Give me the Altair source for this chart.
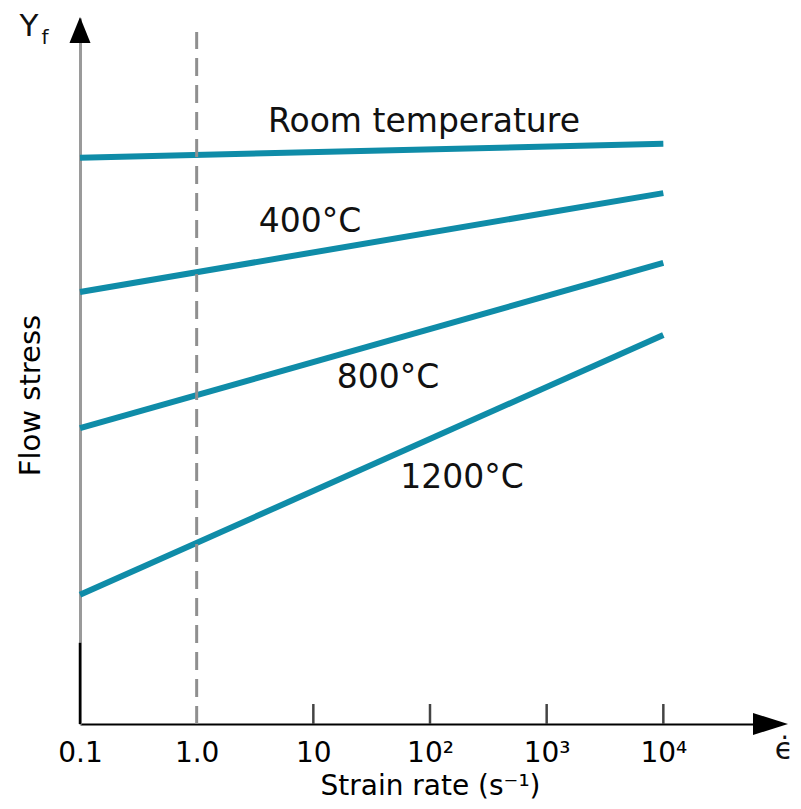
import altair as alt
import pandas as pd

# ---- data ----
series = ["Room temperature", "400°C", "800°C", "1200°C"]
strain_start = [0.1, 0.1, 0.1, 0.1]
strain_end = [1e4, 1e4, 1e4, 1e4]
stress_start = [80.2, 61.2, 41.9, 18.3]
stress_end = [82.2, 75.2, 65.3, 55.1]

label_text = ["Room temperature", "400°C", "800°C", "1200°C"]
label_x = [88.8, 9.36, 43.6, 188.0]
label_y = [85.3, 71.1, 49.0, 34.8]

tick_values = [0.1, 1, 10, 100, 1000, 10000]
tick_labels = ["0.1", "1.0", "10", "10²", "10³", "10⁴"]
minor_ticks = [10, 100, 1000, 10000]

x_min, x_max = 0.1, 1e5
y_min, y_max = 0, 100

FONT = "DejaVu Sans"
TEAL = "#0f8ca8"

# ---- tables ----
lines_df = pd.DataFrame(
    [{"series": s, "x": a, "y": b} for s, a, b in zip(series, strain_start, stress_start)]
    + [{"series": s, "x": a, "y": b} for s, a, b in zip(series, strain_end, stress_end)]
)
labels_df = pd.DataFrame({"label": label_text, "x": label_x, "y": label_y})
ticks_df = pd.DataFrame({"x": minor_ticks, "y": [0] * len(minor_ticks), "y2": [2.83] * len(minor_ticks)})
ref_df = pd.DataFrame({"x": [1.0], "y": [0], "y2": [98]})
ybar_df = pd.DataFrame({"x": [0.1], "y": [0], "y2": [11.5]})
yarrow_df = pd.DataFrame({"x": [x_min], "y": [y_max]})
xarrow_df = pd.DataFrame({"x": [x_max], "y": [y_min]})

xscale = alt.Scale(type="log", domain=[x_min, x_max], nice=False)
yscale = alt.Scale(domain=[y_min, y_max], nice=False, zero=False)

vals = ",".join(str(v) for v in tick_values)
labs = ",".join(f"'{l}'" for l in tick_labels)
label_expr = f"[{labs}][indexof([{vals}], datum.value)]"

x_axis = alt.Axis(
    values=tick_values, labelExpr=label_expr, ticks=False, tickSize=0, grid=False,
    domainColor="black", domainWidth=2, labelFont=FONT, labelFontSize=28,
    labelColor="black", labelPadding=15, labelFlush=False, labelOverlap=False,
    title="Strain rate (s⁻¹)", titleFont=FONT, titleFontSize=28,
    titleFontWeight="normal", titleColor="black",
    titleBaseline="alphabetic", titleY=70,
)
y_axis = alt.Axis(
    ticks=False, labels=False, grid=False, domainColor="#9a9a9a", domainWidth=3,
    title="Flow stress", titleFont=FONT, titleFontSize=29, titleFontWeight="normal",
    titleColor="black", titlePadding=35, titleY=377,
)

def X():
    return alt.X("x:Q", scale=xscale, axis=x_axis)

def Y():
    return alt.Y("y:Q", scale=yscale, axis=y_axis)

lines = alt.Chart(lines_df).mark_line(color=TEAL, strokeWidth=6, strokeCap="butt").encode(
    x=X(), y=Y(), detail="series:N"
)

ref = alt.Chart(ref_df).mark_rule(color="#8f8f8f", strokeWidth=3, strokeDash=[18, 9]).encode(
    x=X(), y=Y(), y2="y2:Q"
)

ybar = alt.Chart(ybar_df).mark_rule(color="black", strokeWidth=2.5).encode(
    x=X(), y=Y(), y2="y2:Q"
)

ticks = alt.Chart(ticks_df).mark_rule(color="#444444", strokeWidth=2.5).encode(
    x=X(), y=Y(), y2="y2:Q"
)

labels = alt.Chart(labels_df).mark_text(
    font=FONT, fontSize=33, color="#111111", align="center", baseline="middle"
).encode(x=X(), y=Y(), text="label:N")

yarrow = alt.Chart(yarrow_df).mark_point(
    shape="M-0.81,1.923 L0,-0.077 L0.81,1.923 Z", size=676, filled=True,
    color="black", opacity=1, strokeWidth=0
).encode(x=X(), y=Y())

xarrow = alt.Chart(xarrow_df).mark_point(
    shape="M-1.543,-0.63 L0.457,0 L-1.543,0.63 Z", size=1225, filled=True,
    color="black", opacity=1, strokeWidth=0
).encode(x=X(), y=Y())

ylab_Y = alt.Chart(yarrow_df).mark_text(
    text="Y", font=FONT, fontSize=31, color="#111111", align="center", baseline="middle",
    dx=-51, dy=9
).encode(x=X(), y=Y())
ylab_f = alt.Chart(yarrow_df).mark_text(
    text="f", font=FONT, fontSize=20, color="#111111", align="center", baseline="middle",
    dx=-35, dy=20
).encode(x=X(), y=Y())
xlab_eps = alt.Chart(xarrow_df).mark_text(
    text="ϵ̇", font=FONT, fontSize=30, color="#111111", align="center", baseline="middle",
    dx=4, dy=26
).encode(x=X(), y=Y())

chart = alt.layer(
    lines, ref, ybar, ticks, labels, yarrow, xarrow, ylab_Y, ylab_f, xlab_eps
).properties(
    width=700, height=706, autosize="none",
    padding={"left": 72, "top": 10, "right": 13, "bottom": 77},
).configure_view(stroke=None)

chart.save("out.html", embed_options={"renderer": "svg", "actions": False})
